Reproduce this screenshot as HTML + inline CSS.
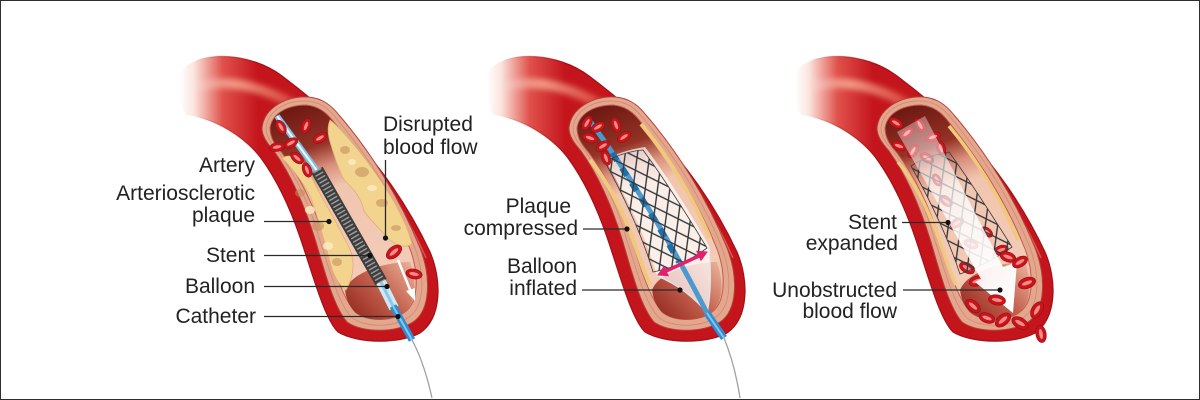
<!DOCTYPE html>
<html><head><meta charset="utf-8">
<style>
html,body{margin:0;padding:0;background:#fff;}
svg{display:block;}
text{font-family:"Liberation Sans",Arial,sans-serif;font-size:21px;fill:#222;}
</style></head><body>
<svg width="1200" height="400" viewBox="0 0 1200 400" xmlns="http://www.w3.org/2000/svg">
<defs>
 <linearGradient id="tubeG" gradientUnits="userSpaceOnUse" x1="180" y1="0" x2="258" y2="0">
  <stop offset="0" stop-color="#ffffff"/>
  <stop offset="0.18" stop-color="#fbe4dd"/>
  <stop offset="0.55" stop-color="#e0514a"/>
  <stop offset="1" stop-color="#c4151d"/>
 </linearGradient>
 <linearGradient id="tubeS" gradientUnits="userSpaceOnUse" x1="195" y1="0" x2="262" y2="0">
  <stop offset="0" stop-color="#a30f16" stop-opacity="0"/>
  <stop offset="1" stop-color="#a30f16"/>
 </linearGradient>
 <linearGradient id="hlG" gradientUnits="userSpaceOnUse" x1="190" y1="0" x2="305" y2="0">
  <stop offset="0" stop-color="#fff" stop-opacity="0"/>
  <stop offset="0.4" stop-color="#f6a98f" stop-opacity="0.85"/>
  <stop offset="1" stop-color="#e66a52" stop-opacity="0.5"/>
 </linearGradient>
 <linearGradient id="lumG" gradientUnits="userSpaceOnUse" x1="295" y1="105" x2="370" y2="320">
  <stop offset="0" stop-color="#6c1812"/>
  <stop offset="0.2" stop-color="#943226"/>
  <stop offset="0.3" stop-color="#d8907c"/>
  <stop offset="0.4" stop-color="#f1c5b0"/>
  <stop offset="0.8" stop-color="#f3cbb6"/>
  <stop offset="1" stop-color="#e7ad96"/>
 </linearGradient>
 <linearGradient id="holG" gradientUnits="userSpaceOnUse" x1="412" y1="262" x2="352" y2="318">
  <stop offset="0" stop-color="#eab29a"/>
  <stop offset="0.5" stop-color="#c4604e"/>
  <stop offset="1" stop-color="#932a20"/>
 </linearGradient>
 <linearGradient id="arrG" gradientUnits="userSpaceOnUse" x1="296" y1="124" x2="392" y2="305">
  <stop offset="0" stop-color="#fff" stop-opacity="0.35"/>
  <stop offset="0.5" stop-color="#fff" stop-opacity="0.8"/>
  <stop offset="1" stop-color="#fff" stop-opacity="1"/>
 </linearGradient>
 <filter id="blur3" x="-20%" y="-50%" width="140%" height="200%"><feGaussianBlur stdDeviation="3"/></filter>
 <pattern id="meshD" patternUnits="userSpaceOnUse" width="15" height="21" patternTransform="rotate(-28)">
  <path d="M0,10.5 L7.5,0 L15,10.5 L7.5,21 Z" fill="none" stroke="#333" stroke-width="1.3"/>
 </pattern>
 <pattern id="meshL" patternUnits="userSpaceOnUse" width="15" height="21" patternTransform="rotate(-28) translate(7.5,10.5)">
  <path d="M0,10.5 L7.5,0 L15,10.5 L7.5,21 Z" fill="none" stroke="#8fb4c8" stroke-width="1"/>
 </pattern>
 <g id="rbc">
  <ellipse cx="0" cy="0" rx="7.5" ry="4.5" fill="#c8141c" stroke="#980c12" stroke-width="0.5"/>
  <ellipse cx="0" cy="0" rx="4.5" ry="1.6" fill="#f38a84"/>
 </g>
 <g id="art">
  <path d="M 182,70 C 200,50 250,52 282,76 C 302,91 326,111 346,130 C 378,163 408,205 430,252 C 442,280 442,318 420,333 C 400,344 358,344 338,332 C 324,318 312,272 300,237 C 289,205 277,180 261,158 C 244,136 214,118 186,115 C 178,102 177,83 182,70 Z" fill="url(#tubeG)" stroke="url(#tubeS)" stroke-width="1.2"/>
  <path d="M 198,86 C 232,78 268,88 302,110" stroke="url(#hlG)" stroke-width="10" fill="none" filter="url(#blur3)"/>
  <path d="M 348,138 C 378,172 406,212 426,258" stroke="#e8806e" stroke-width="1.5" fill="none" opacity="0.6"/>
  <path d="M 262,128 C 264,108 286,96 308,97 C 322,98 331,105 339,115 C 370,151 400,198 420,248 C 431,276 431,310 413,322 C 396,333 362,333 347,322 C 334,307 325,273 316,242 C 305,206 292,176 274,151 C 267,143 262,136 262,128 Z" fill="#e3a78e" stroke="#b8413a" stroke-width="1"/>
  <path d="M 266,128 C 268,110 287,100 307,101 C 320,102 328,108 336,118 C 366,154 396,199 415,248 C 425,275 425,306 409,317 C 394,328 364,328 351,317 C 338,302 330,271 320,241 C 310,204 296,176 278,151 C 272,144 266,137 266,128 Z" fill="none" stroke="#cf7a68" stroke-width="0.8" opacity="0.7"/>
  <path d="M 270,128 C 272,113 288,105 306,105 C 318,106 326,112 333,121 C 362,157 391,201 410,249 C 419,273 419,302 405,312 C 392,322 367,322 355,312 C 343,298 334,270 325,240 C 314,205 300,177 282,153 C 276,146 270,139 270,128 Z" fill="url(#lumG)" stroke="#c45a4c" stroke-width="1"/>
  <path d="M 345,290 C 352,272 385,262 410,262 C 417,282 416,302 405,312 C 392,322 367,322 355,312 C 349,306 346,298 345,290 Z" fill="url(#holG)"/>
 </g>
</defs>

<rect x="0.5" y="0.5" width="1199" height="399" fill="#fff" stroke="#2e2e2e" stroke-width="1"/>

<!-- ============ PANEL 1 ============ -->
<use href="#art"/>
<path d="M 330,120 C 345,132 372,165 393,200 C 403,218 410,234 412,244 C 404,249 394,245 387,237 C 379,228 371,221 364,211 C 361,198 355,190 345,181 C 339,171 335,158 331,145 C 328,136 327,127 330,120 Z" fill="#f2d48e" stroke="#e0b070" stroke-width="0.8"/>
<path d="M 282,158 C 291,153 301,158 307,168 C 313,180 319,193 327,206 C 335,221 345,238 351,252 C 355,265 353,278 346,290 C 339,285 333,275 330,262 C 324,240 319,220 311,198 C 303,182 292,168 282,158 Z" fill="#f2d48e" stroke="#e0b070" stroke-width="0.8"/>
<g fill="#c48a5a" opacity="0.55">
 <ellipse cx="300" cy="193" rx="5" ry="4"/><ellipse cx="318" cy="226" rx="6" ry="5"/><ellipse cx="337" cy="262" rx="5" ry="4"/>
 <ellipse cx="362" cy="172" rx="7" ry="5"/><ellipse cx="382" cy="203" rx="6" ry="4"/><ellipse cx="345" cy="150" rx="5" ry="4"/><ellipse cx="396" cy="228" rx="5" ry="3"/>
</g>
<g fill="#fdeec4" opacity="0.8">
 <ellipse cx="310" cy="210" rx="5" ry="4"/><ellipse cx="328" cy="246" rx="5" ry="4"/><ellipse cx="372" cy="188" rx="5" ry="3"/><ellipse cx="352" cy="162" rx="4" ry="3"/>
</g>
<line x1="277" y1="116" x2="318" y2="172" stroke="#7cc4e6" stroke-width="6"/>
<line x1="277" y1="116" x2="318" y2="172" stroke="#f4fbff" stroke-width="2"/>
<line x1="317" y1="170" x2="381" y2="282" stroke="#3e3e3e" stroke-width="13"/>
<line x1="317" y1="170" x2="381" y2="282" stroke="#9a9a9a" stroke-width="9" stroke-dasharray="1.5 2.5"/>
<line x1="381" y1="282" x2="394" y2="308" stroke="#cfe9f4" stroke-width="10"/>
<line x1="381" y1="282" x2="394" y2="308" stroke="#8cc8e8" stroke-width="3"/>
<line x1="393" y1="306" x2="412" y2="340" stroke="#2c8fd4" stroke-width="7"/>
<line x1="393" y1="306" x2="412" y2="340" stroke="#86c6ee" stroke-width="2"/>
<path d="M 412,340 Q 424,362 432,398" stroke="#a0a0a0" stroke-width="1.3" fill="none"/>
<use href="#rbc" transform="translate(281,127) rotate(60)"/>
<use href="#rbc" transform="translate(306,126) rotate(-70)"/>
<use href="#rbc" transform="translate(320,138) rotate(-30)"/>
<use href="#rbc" transform="translate(277,147) rotate(-10)"/>
<use href="#rbc" transform="translate(291,143) rotate(-30)"/>
<use href="#rbc" transform="translate(297,158) rotate(40)"/>
<use href="#rbc" transform="translate(307,170) rotate(70)"/>
<use href="#rbc" transform="translate(394,252) rotate(-40) scale(1.2)"/>
<use href="#rbc" transform="translate(414,274) rotate(10) scale(1.1)"/>
<line x1="398" y1="260" x2="411" y2="292" stroke="#fff" stroke-width="2.5"/>
<polygon points="415,301 406,291 415,288" fill="#fff"/>
<text x="255" y="172" text-anchor="end">Artery</text>
<text x="255" y="200" text-anchor="end">Arteriosclerotic</text>
<text x="255" y="222" text-anchor="end">plaque</text>
<text x="255" y="262" text-anchor="end">Stent</text>
<text x="255" y="293" text-anchor="end">Balloon</text>
<text x="256" y="323" text-anchor="end">Catheter</text>
<text x="383" y="131">Disrupted</text>
<text x="383" y="154">blood flow</text>
<g stroke="#2a2a2a" stroke-width="1.3">
 <line x1="264" y1="221.5" x2="329" y2="221.5"/>
 <line x1="264" y1="255.5" x2="370" y2="255.5"/>
 <line x1="264" y1="286.5" x2="387" y2="286.5"/>
 <line x1="264" y1="316.5" x2="398" y2="316.5"/>
 <line x1="385.5" y1="160" x2="385.5" y2="238"/>
</g>
<g fill="#111">
 <circle cx="329" cy="221.5" r="2.6"/><circle cx="370" cy="255.5" r="2.6"/><circle cx="387" cy="286.5" r="2.6"/><circle cx="398" cy="316.5" r="2.6"/><circle cx="385.5" cy="238" r="2.6"/>
</g>

<!-- ============ PANEL 2 ============ -->
<g transform="translate(307,0)">
 <use href="#art"/>
 <path d="M 283,160 C 300,180 318,215 328,245 C 334,262 338,275 343,285" stroke="#f0c97c" stroke-width="4" fill="none"/>
 <path d="M 334,124 C 360,155 385,195 403,238" stroke="#f0c97c" stroke-width="4" fill="none"/>
 <path d="M 298,160 C 310,153 325,149 338,147 C 360,176 385,215 402,246 C 404,270 404,295 400,313 C 388,298 370,284 350,276 C 340,240 320,197 298,160 Z" fill="#ffffff" opacity="0.7"/>
 <path d="M 350,276 C 370,284 388,298 400,313 C 404,295 404,270 402,246" fill="none" stroke="#dfe8ee" stroke-width="1.2"/>
 <path d="M 280,117 Q 345,205 400,313" stroke="#4a9ad0" stroke-width="5" fill="none"/>
 <path d="M 305,153 Q 340,205 372,262" stroke="#1d6fa8" stroke-width="6" fill="none" stroke-dasharray="9 9"/>
 <line x1="400" y1="313" x2="417" y2="338" stroke="#2c8fd4" stroke-width="7"/>
 <line x1="400" y1="313" x2="417" y2="338" stroke="#86c6ee" stroke-width="2"/>
 <path d="M 417,338 Q 428,365 433,398" stroke="#a0a0a0" stroke-width="1.3" fill="none"/>
 <path d="M 298,162 C 310,155 324,151 336,150 C 358,180 382,218 400,248 C 384,260 366,268 346,272 C 336,238 318,198 298,162 Z" fill="url(#meshL)"/>
 <path d="M 298,162 C 310,155 324,151 336,150 C 358,180 382,218 400,248 C 384,260 366,268 346,272 C 336,238 318,198 298,162 Z" fill="url(#meshD)" stroke="#3a3a3a" stroke-width="0.8"/>
 <use href="#rbc" transform="translate(280,123) rotate(-60)"/>
 <use href="#rbc" transform="translate(291,127) rotate(-30)"/>
 <use href="#rbc" transform="translate(309,125) rotate(70)"/>
 <use href="#rbc" transform="translate(317,137) rotate(-35)"/>
 <use href="#rbc" transform="translate(283,138) rotate(20)"/>
 <use href="#rbc" transform="translate(296,146) rotate(-30)"/>
 <use href="#rbc" transform="translate(299,158) rotate(70)"/>
 <line x1="358" y1="271.5" x2="393" y2="255.5" stroke="#e2206c" stroke-width="3.5"/>
 <polygon points="400,252 394,260.3 389.8,251.3" fill="#e2206c" stroke="#e2206c" stroke-width="1"/>
 <polygon points="351,275 361.2,275.7 357,266.7" fill="#e2206c" stroke="#e2206c" stroke-width="1"/>
</g>
<text x="571" y="213" text-anchor="end">Plaque</text>
<text x="578" y="235" text-anchor="end">compressed</text>
<text x="577" y="273" text-anchor="end">Balloon</text>
<text x="577" y="295" text-anchor="end">inflated</text>
<g stroke="#2a2a2a" stroke-width="1.3">
 <line x1="583" y1="229" x2="627" y2="229"/>
 <line x1="582" y1="290" x2="680" y2="290"/>
</g>
<g fill="#111"><circle cx="627" cy="229" r="2.6"/><circle cx="680" cy="290" r="2.6"/></g>

<!-- ============ PANEL 3 ============ -->
<g transform="translate(615,0)">
 <use href="#art"/>
 <path d="M 283,162 C 300,182 316,215 326,245 C 332,262 336,275 341,285" stroke="#f0c97c" stroke-width="3.5" fill="none"/>
 <path d="M 334,126 C 360,157 385,197 403,240" stroke="#f0c97c" stroke-width="3.5" fill="none"/>
 <use href="#rbc" transform="translate(281,123) rotate(30)"/>
 <use href="#rbc" transform="translate(292,133) rotate(-40)"/>
 <use href="#rbc" transform="translate(305,125) rotate(60)"/>
 <use href="#rbc" transform="translate(318,137) rotate(-20)"/>
 <use href="#rbc" transform="translate(284,146) rotate(20)"/>
 <use href="#rbc" transform="translate(298,151) rotate(-60)"/>
 <use href="#rbc" transform="translate(312,158) rotate(30)"/>
 <use href="#rbc" transform="translate(326,148) rotate(70)"/>
 <use href="#rbc" transform="translate(322,180) rotate(60) scale(0.9)"/>
 <use href="#rbc" transform="translate(331,201) rotate(40)"/>
 <use href="#rbc" transform="translate(342,223) rotate(-30)"/>
 <use href="#rbc" transform="translate(356,244) rotate(20)"/>
 <use href="#rbc" transform="translate(372,232) rotate(40) scale(0.9)"/>
 <use href="#rbc" transform="translate(386,250) rotate(-20)"/>
 <use href="#rbc" transform="translate(352,268) rotate(30) scale(1.1)"/>
 <use href="#rbc" transform="translate(362,281) rotate(-20) scale(1.1)"/>
 <path d="M 296,166 C 308,158 322,154 334,152 C 356,182 380,220 397,247 C 382,258 362,268 345,274 C 333,238 315,200 296,166 Z" fill="url(#meshL)"/>
 <path d="M 296,166 C 308,158 322,154 334,152 C 356,182 380,220 397,247 C 382,258 362,268 345,274 C 333,238 315,200 296,166 Z" fill="url(#meshD)" stroke="#3a3a3a" stroke-width="0.8"/>
 <polygon points="282,132 310,116 388,267 402,262 398,313 360,282 366,279" fill="url(#arrG)"/>
 <use href="#rbc" transform="translate(358,306) rotate(40) scale(1.15)"/>
 <use href="#rbc" transform="translate(382,300) rotate(10) scale(1.15)"/>
 <use href="#rbc" transform="translate(393,257) rotate(20) scale(1.1)"/>
 <use href="#rbc" transform="translate(405,262) rotate(-30) scale(1.1)"/>
 <use href="#rbc" transform="translate(412,283) rotate(-20) scale(1.2)"/>
 <use href="#rbc" transform="translate(388,320) rotate(-40) scale(1.2)"/>
 <use href="#rbc" transform="translate(405,323) rotate(30) scale(1.2)"/>
 <use href="#rbc" transform="translate(422,310) rotate(-60) scale(1.2)"/>
 <use href="#rbc" transform="translate(426,334) rotate(80) scale(1.15)"/>
 <use href="#rbc" transform="translate(372,318) rotate(20) scale(1.1)"/>
</g>
<text x="897" y="229" text-anchor="end">Stent</text>
<text x="898" y="250" text-anchor="end">expanded</text>
<text x="897" y="297" text-anchor="end">Unobstructed</text>
<text x="897" y="318" text-anchor="end">blood flow</text>
<g stroke="#2a2a2a" stroke-width="1.3">
 <line x1="902" y1="222.5" x2="948" y2="222.5"/>
 <line x1="903" y1="290" x2="1000" y2="290"/>
</g>
<g fill="#111"><circle cx="948" cy="222.5" r="2.6"/><circle cx="1000" cy="290" r="2.6"/></g>
</svg>
</body></html>
